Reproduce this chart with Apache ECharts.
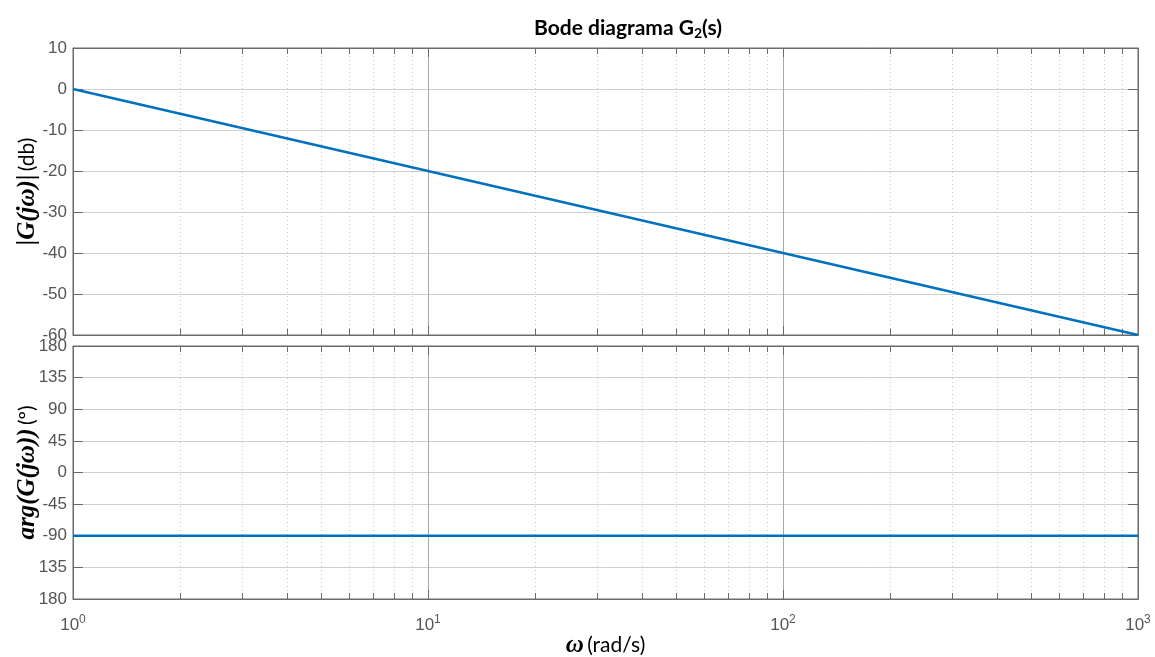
<!DOCTYPE html>
<html>
<head>
<meta charset="utf-8">
<script src="https://cdn.jsdelivr.net/npm/echarts@6/dist/echarts.min.js"></script>
<style>
  html, body { margin: 0; padding: 0; background: #fff; }
  #chart { width: 1155px; height: 657px; }
</style>
</head>
<body>
<div id="chart"></div>
<script>
const freqs = [1, 10, 100, 1000];
const magDb = [0, -20, -40, -60];
const phaseDeg = [-90, -90, -90, -90];
const minorFreqs = [2, 3, 4, 5, 6, 7, 8, 9, 20, 30, 40, 50, 60, 70, 80, 90, 200, 300, 400, 500, 600, 700, 800, 900];
const phaseTicks = [-180, -135, -90, -45, 0, 45, 90, 135, 180];
const phaseTickLabels = ['180', '135', '-90', '-45', '0', '45', '90', '135', '180'];

const axisCol = '#6a6a6a';
const labelCol = '#555';
const lineCol = '#0072BD';
const labelFont = 'Liberation Sans';
const mathFont = 'Liberation Serif';
const textFont = 'Lato';

const chart = echarts.init(document.getElementById('chart'));

function xAxisBase(grid, pos, showLabel) {
    return {
        type: 'log', logBase: 10, min: 1, max: 1000, gridIndex: grid, position: pos,
        axisLine: { show: true, onZero: false, lineStyle: { color: axisCol, width: 1 } },
        axisTick: { show: true, inside: true, length: 9, lineStyle: { color: axisCol } },
        splitLine: { show: pos === 'bottom', lineStyle: { color: '#a8a8a8', width: 1 } },
        axisLabel: {
            show: showLabel, margin: 10, color: labelCol,
            formatter: v => '{b|10}{s|' + Math.round(Math.log10(v)) + '}',
            rich: {
                b: { fontFamily: labelFont, fontSize: 17, color: labelCol, padding: [8, 0, 0, 0] },
                s: { fontFamily: labelFont, fontSize: 12, color: labelCol, padding: [0, 0, 4, 0] }
            }
        }
    };
}

function yAxisBase(grid, pos, min, max, interval, showLabel, fmt) {
    return {
        type: 'value', gridIndex: grid, position: pos, min: min, max: max, interval: interval,
        axisLine: { show: true, onZero: false, lineStyle: { color: axisCol, width: 1 } },
        axisTick: { show: true, inside: true, length: 10, lineStyle: { color: axisCol } },
        splitLine: { show: pos === 'left', lineStyle: { color: '#cfcfcf', width: 1 } },
        axisLabel: {
            show: showLabel, margin: 6, color: labelCol, fontFamily: labelFont, fontSize: 17,
            formatter: fmt
        }
    };
}

function minorGrid(xi, yi) {
    return {
        type: 'custom', xAxisIndex: xi, yAxisIndex: yi, silent: true, z: 1,
        data: minorFreqs.map(f => [f]),
        renderItem: function (params, api) {
            const cs = params.coordSys;
            const x = Math.round(api.coord([api.value(0), 0])[0]) + 0.5;
            const top = cs.y, bot = cs.y + cs.height;
            return {
                type: 'group',
                children: [
                    { type: 'line', shape: { x1: x, y1: top, x2: x, y2: bot },
                      style: { stroke: '#c4c4c4', lineWidth: 1, lineDash: [1, 3] } },
                    { type: 'line', shape: { x1: x, y1: top, x2: x, y2: top + 6 },
                      style: { stroke: axisCol, lineWidth: 1 } },
                    { type: 'line', shape: { x1: x, y1: bot, x2: x, y2: bot - 6 },
                      style: { stroke: axisCol, lineWidth: 1 } }
                ]
            };
        }
    };
}

const nameRich = {
    m: { fontFamily: mathFont, fontStyle: 'italic', fontWeight: 'bold', fontSize: 25, color: '#000' },
    n: { fontFamily: textFont, fontSize: 21, color: '#000' }
};

const option = {
    animation: false,
    backgroundColor: '#fff',
    title: {
        text: '{t|Bode diagrama G}{sub|2}{t|(s)}',
        left: 529, top: 12,
        textStyle: {
            rich: {
                t: { fontFamily: textFont, fontWeight: 'bold', fontSize: 21, color: '#000' },
                sub: { fontFamily: textFont, fontWeight: 'bold', fontSize: 14, color: '#000', padding: [9, 0, 0, 0] }
            }
        }
    },
    grid: [
        { left: 73, right: 17, top: 48, height: 287, show: true, borderColor: axisCol, borderWidth: 1,
          containLabel: false, outerBoundsMode: 'none' },
        { left: 73, right: 17, top: 346, height: 253, show: true, borderColor: axisCol, borderWidth: 1,
          containLabel: false, outerBoundsMode: 'none' }
    ],
    xAxis: [
        xAxisBase(0, 'bottom', false),
        xAxisBase(0, 'top', false),
        Object.assign(xAxisBase(1, 'bottom', true), {
            name: '{m|ω} {n|(rad/s)}', nameLocation: 'middle', nameGap: 34, nameMoveOverlap: false,
            nameTextStyle: { rich: nameRich }
        }),
        xAxisBase(1, 'top', false)
    ],
    yAxis: [
        Object.assign(yAxisBase(0, 'left', -60, 10, 10, true), {
            name: '{m||G(jω)|} {n|(db)}', nameLocation: 'middle', nameGap: 33, nameRotate: 90,
            nameMoveOverlap: false,
            nameTextStyle: { rich: nameRich }
        }),
        yAxisBase(0, 'right', -60, 10, 10, false),
        Object.assign(yAxisBase(1, 'left', -180, 180, 45, true,
            v => phaseTickLabels[phaseTicks.indexOf(v)]), {
            name: '{m|arg(G(jω))} {n|(º)}', nameLocation: 'middle', nameGap: 33, nameRotate: 90,
            nameMoveOverlap: false,
            nameTextStyle: { rich: nameRich }
        }),
        yAxisBase(1, 'right', -180, 180, 45, false)
    ],
    series: [
        minorGrid(0, 0),
        minorGrid(2, 2),
        {
            type: 'line', xAxisIndex: 0, yAxisIndex: 0, z: 5,
            data: freqs.map((f, i) => [f, magDb[i]]),
            showSymbol: false, lineStyle: { color: lineCol, width: 2.5 }
        },
        {
            type: 'line', xAxisIndex: 2, yAxisIndex: 2, z: 5,
            data: freqs.map((f, i) => [f, phaseDeg[i]]),
            showSymbol: false, lineStyle: { color: lineCol, width: 2.5 }
        }
    ]
};

chart.setOption(option);
</script>
</body>
</html>
